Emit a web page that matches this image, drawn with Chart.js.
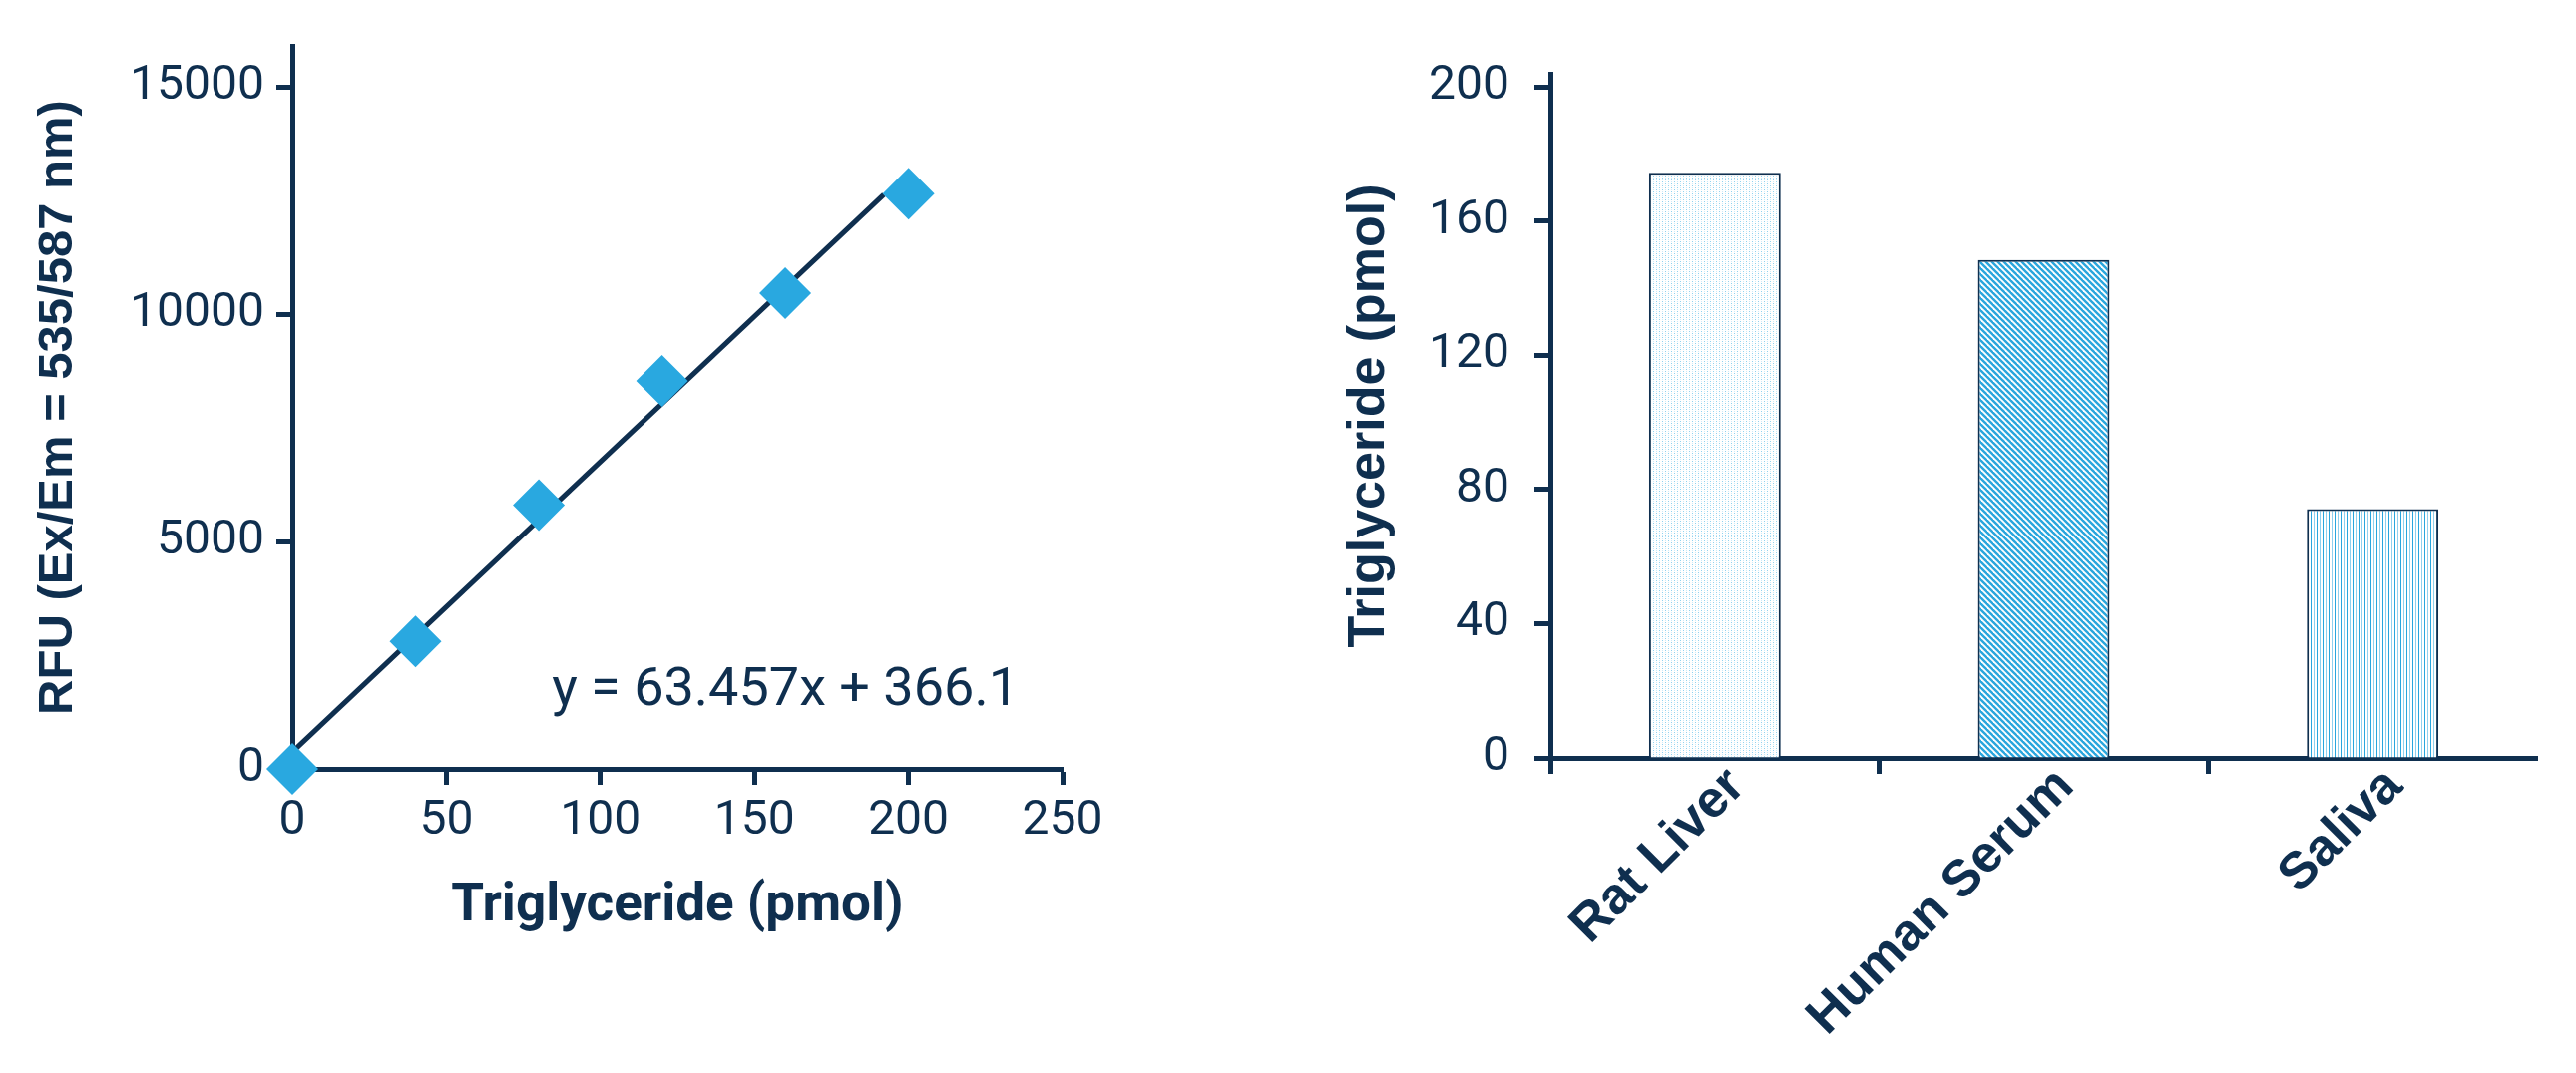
<!DOCTYPE html>
<html>
<head>
<meta charset="utf-8">
<title>Triglyceride standard curve and samples</title>
<script src="https://cdn.jsdelivr.net/npm/chart.js@4.4.1/dist/chart.umd.min.js"></script>
<style>
  html, body { margin: 0; padding: 0; background: #ffffff; }
  #wrap { position: relative; width: 2582px; height: 1076px; }
  canvas { position: absolute; top: 0; }
  #curve { left: 0; }
  #samples { left: 1290px; }
</style>
</head>
<body>
<div id="wrap">
  <canvas id="curve" width="1290" height="1076"></canvas>
  <canvas id="samples" width="1292" height="1076"></canvas>
</div>
<script>
// ---------------------------------------------------------------------------
// Data
// ---------------------------------------------------------------------------
const stdAmount = [0, 40, 80, 120, 160, 200];            // pmol
const stdRfu    = [0, 2800, 5800, 8530, 10460, 12650];   // RFU

const fitAmount = [0, 192];          // ends of the drawn fit line
const fitRfu    = [370, 12630];
const fitLabel  = 'y = 63.457x + 366.1';
const fitLabelAt = [160, 1400];      // x (pmol), y (RFU) of the label baseline

const sampleNames = ['Rat Liver', 'Human Serum', 'Saliva'];
const sampleTg    = [174.5, 148.5, 74.2];   // pmol

const curveXTicks  = [0, 50, 100, 150, 200, 250];
const curveYTicks  = [0, 5000, 10000, 15000];
const curveYMax    = 15900;
const sampleYTicks = [0, 40, 80, 120, 160, 200];
const sampleYMax   = 204;

// ---------------------------------------------------------------------------
// Style
// ---------------------------------------------------------------------------
const NAVY = '#0f2f4f';
const BLUE = '#29a8e0';
const TICK_FONT = { family: 'Roboto', size: 48 };
const BOLD_SANS = 'Liberation Sans';

Chart.defaults.font.family = 'Roboto';
Chart.defaults.color = NAVY;

// small repeating fills for the three bars
function makePattern(w, h, paint) {
  const c = document.createElement('canvas');
  c.width = w;
  c.height = h;
  const g = c.getContext('2d');
  g.fillStyle = '#ffffff';
  g.fillRect(0, 0, w, h);
  paint(g);
  return g.createPattern(c, 'repeat');
}

const dotFill = makePattern(6, 4, g => {
  g.fillStyle = '#8fd2f0';
  g.fillRect(1, 0, 1, 1);
  g.fillRect(4, 2, 1, 1);
  g.fillStyle = '#cdeaf8';
  g.fillRect(4, 0, 1, 1);
  g.fillRect(1, 2, 1, 1);
});

const hatchFill = makePattern(6, 6, g => {
  g.strokeStyle = '#2aa6dd';
  g.lineWidth = 2.4;
  for (const k of [-6, 0, 6]) {
    g.beginPath();
    g.moveTo(k - 1, -1);
    g.lineTo(k + 7, 7);
    g.stroke();
  }
});

const stripeFill = makePattern(6, 1, g => {
  g.fillStyle = '#2aa6dd';
  g.fillRect(0, 0, 1, 1);
  g.fillStyle = '#8fd0ee';
  g.fillRect(3, 0, 1, 1);
});

// shared axis pieces
function axisGrid(extra) {
  return Object.assign({
    drawOnChartArea: false,
    drawTicks: true,
    tickLength: 16,
    tickWidth: 5,
    tickColor: NAVY,
  }, extra || {});
}
const axisBorder = { display: true, color: NAVY, width: 5 };

// put ticks exactly at the listed values
function fixedTicks(values) {
  return scale => { scale.ticks = values.map(v => ({ value: v })); };
}

// ---------------------------------------------------------------------------
// Equation label, placed in data coordinates
// ---------------------------------------------------------------------------
const fitLabelPlugin = {
  id: 'fitLabel',
  afterDatasetsDraw(chart) {
    const { ctx, scales } = chart;
    ctx.save();
    ctx.font = '54px Roboto';
    ctx.fillStyle = NAVY;
    ctx.textAlign = 'center';
    ctx.textBaseline = 'alphabetic';
    ctx.fillText(
      fitLabel,
      scales.x.getPixelForValue(fitLabelAt[0]),
      scales.y.getPixelForValue(fitLabelAt[1])
    );
    ctx.restore();
  },
};

// ---------------------------------------------------------------------------
// Left: standard curve
// ---------------------------------------------------------------------------
new Chart(document.getElementById('curve'), {
  type: 'scatter',
  data: {
    datasets: [
      {
        label: 'Standards',
        data: stdAmount.map((x, i) => ({ x, y: stdRfu[i] })),
        pointStyle: 'rectRot',
        pointRadius: 26,
        pointHoverRadius: 26,
        pointBorderWidth: 0,
        backgroundColor: BLUE,
        borderColor: BLUE,
        clip: false,
      },
      {
        label: 'Fit',
        data: fitAmount.map((x, i) => ({ x, y: fitRfu[i] })),
        showLine: true,
        pointRadius: 0,
        borderColor: NAVY,
        borderWidth: 5,
        clip: false,
      },
    ],
  },
  options: {
    responsive: false,
    animation: false,
    events: [],
    layout: { padding: { left: 0, top: 46, right: 225, bottom: 105 } },
    plugins: { legend: { display: false }, tooltip: { enabled: false } },
    scales: {
      x: {
        type: 'linear',
        min: curveXTicks[0],
        max: curveXTicks[curveXTicks.length - 1],
        afterBuildTicks: fixedTicks(curveXTicks),
        afterFit: s => { s.height = 200; },
        ticks: { color: NAVY, font: TICK_FONT, padding: 8, maxRotation: 0, callback: v => String(v) },
        grid: axisGrid(),
        border: axisBorder,
        title: {
          display: true,
          text: 'Triglyceride (pmol)',
          color: NAVY,
          font: { family: 'Roboto', size: 53, weight: 'bold' },
          padding: { top: 0, bottom: 29 },
        },
      },
      y: {
        type: 'linear',
        min: curveYTicks[0],
        max: curveYMax,
        afterBuildTicks: fixedTicks(curveYTicks),
        afterFit: s => { s.width = 293; },
        ticks: {
          color: NAVY,
          font: TICK_FONT,
          padding: 12,
          callback: v => String(v),
        },
        grid: axisGrid(),
        border: axisBorder,
        title: {
          display: true,
          text: 'RFU (Ex/Em = 535/587 nm)',
          color: NAVY,
          font: { family: BOLD_SANS, size: 49, weight: 'bold' },
          padding: { top: 29, bottom: 0 },
        },
      },
    },
  },
  plugins: [fitLabelPlugin],
});

// ---------------------------------------------------------------------------
// Right: sample bars
// ---------------------------------------------------------------------------
new Chart(document.getElementById('samples'), {
  type: 'bar',
  data: {
    labels: sampleNames,
    datasets: [{
      label: 'Triglyceride',
      data: sampleTg,
      backgroundColor: [dotFill, hatchFill, stripeFill],
      borderColor: NAVY,
      borderWidth: 2,
      barPercentage: 0.4,
      categoryPercentage: 1,
    }],
  },
  options: {
    responsive: false,
    animation: false,
    events: [],
    layout: { padding: { left: 0, top: 74, right: 39, bottom: 0 } },
    plugins: { legend: { display: false }, tooltip: { enabled: false } },
    scales: {
      x: {
        afterFit: s => { s.height = 316; },
        ticks: {
          minRotation: 45,
          maxRotation: 45,
          color: NAVY,
          font: { family: BOLD_SANS, size: 52, weight: 'bold' },
          padding: -18,
          labelOffset: 22,
        },
        grid: axisGrid({
          offset: true,
          tickColor: c => (c.type === 'tick' ? NAVY : 'rgba(0,0,0,0)'),
        }),
        border: axisBorder,
      },
      y: {
        min: sampleYTicks[0],
        max: sampleYMax,
        afterBuildTicks: fixedTicks(sampleYTicks),
        afterFit: s => { s.width = 264; },
        ticks: {
          color: NAVY,
          font: TICK_FONT,
          padding: 25,
        },
        grid: axisGrid(),
        border: axisBorder,
        title: {
          display: true,
          text: 'Triglyceride (pmol)',
          color: NAVY,
          font: { family: BOLD_SANS, size: 52, weight: 'bold' },
          padding: { top: 51, bottom: 0 },
        },
      },
    },
  },
});
</script>
</body>
</html>
